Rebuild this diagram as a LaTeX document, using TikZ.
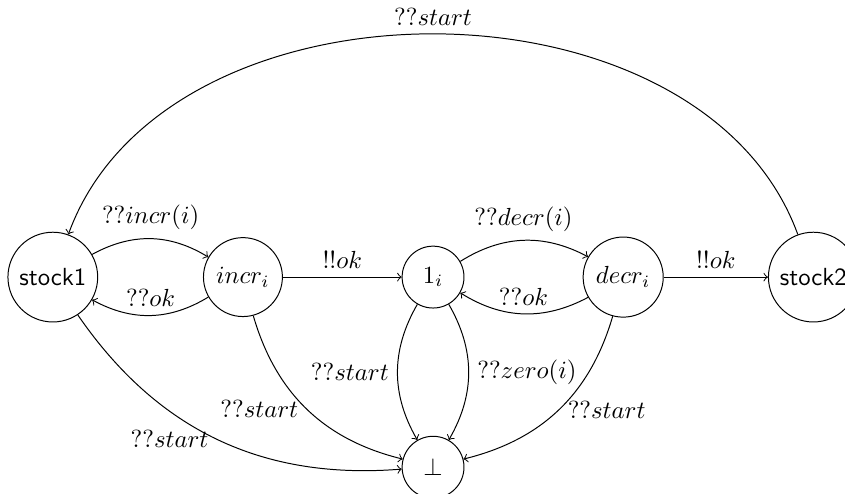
\documentclass[tikz,border=0pt]{standalone}
\usepackage{amsmath}
\usepackage{amssymb}
\usetikzlibrary{positioning}

\begin{document}
\begin{tikzpicture}[node distance={27mm}, main/.style = {draw, circle, minimum size=2.5em}]
            \useasboundingbox (-0.75,-3.07) rectangle (11.25,3.935);
            \node[main] (s1) {\textsf{stock1}};
            \node[main] (incr) [right of=s1] {$incr_i$};
            \node[main] (one) [right of=incr] {$1_i$};
            \node[main] (decr) [right of=one] {$decr_i$};
            \node[main] (s2) [right of=decr] {\textsf{stock2}};
            \node[main] (bot) [below of=one] {$\perp$};
            % top row
            \draw[->] (s1) to [bend left] node[above] {$??incr(i)$} (incr);
            \draw[->] (incr) to [bend left] node[above] {$??ok$} (s1);
            \draw[->] (incr) -- node[above] {$!!ok$} (one);
            \draw[->] (one) to [bend left] node[above] {$??decr(i)$} (decr);
            \draw[->] (decr) to [bend left] node[above] {$??ok$} (one);
            \draw[->] (decr) -- node[above] {$!!ok$} (s2);
            \draw[->] (s2) to [bend right=70] node[above] {$??start$} (s1);
            % edges to bottom
            \draw[->] (s1) to [bend right] node[left] {$??start$} (bot);
            \draw[->] (incr) to [bend right] node[left] {$??start$} (bot);
            \draw[->] (one) to [bend right] node[left] {$??start$} (bot);
            \draw[->] (one) to [bend left] node[right] {$??zero(i)$} (bot);
            \draw[->] (decr) to [bend left] node[right] {$??start$} (bot);
        \end{tikzpicture}
\end{document}
